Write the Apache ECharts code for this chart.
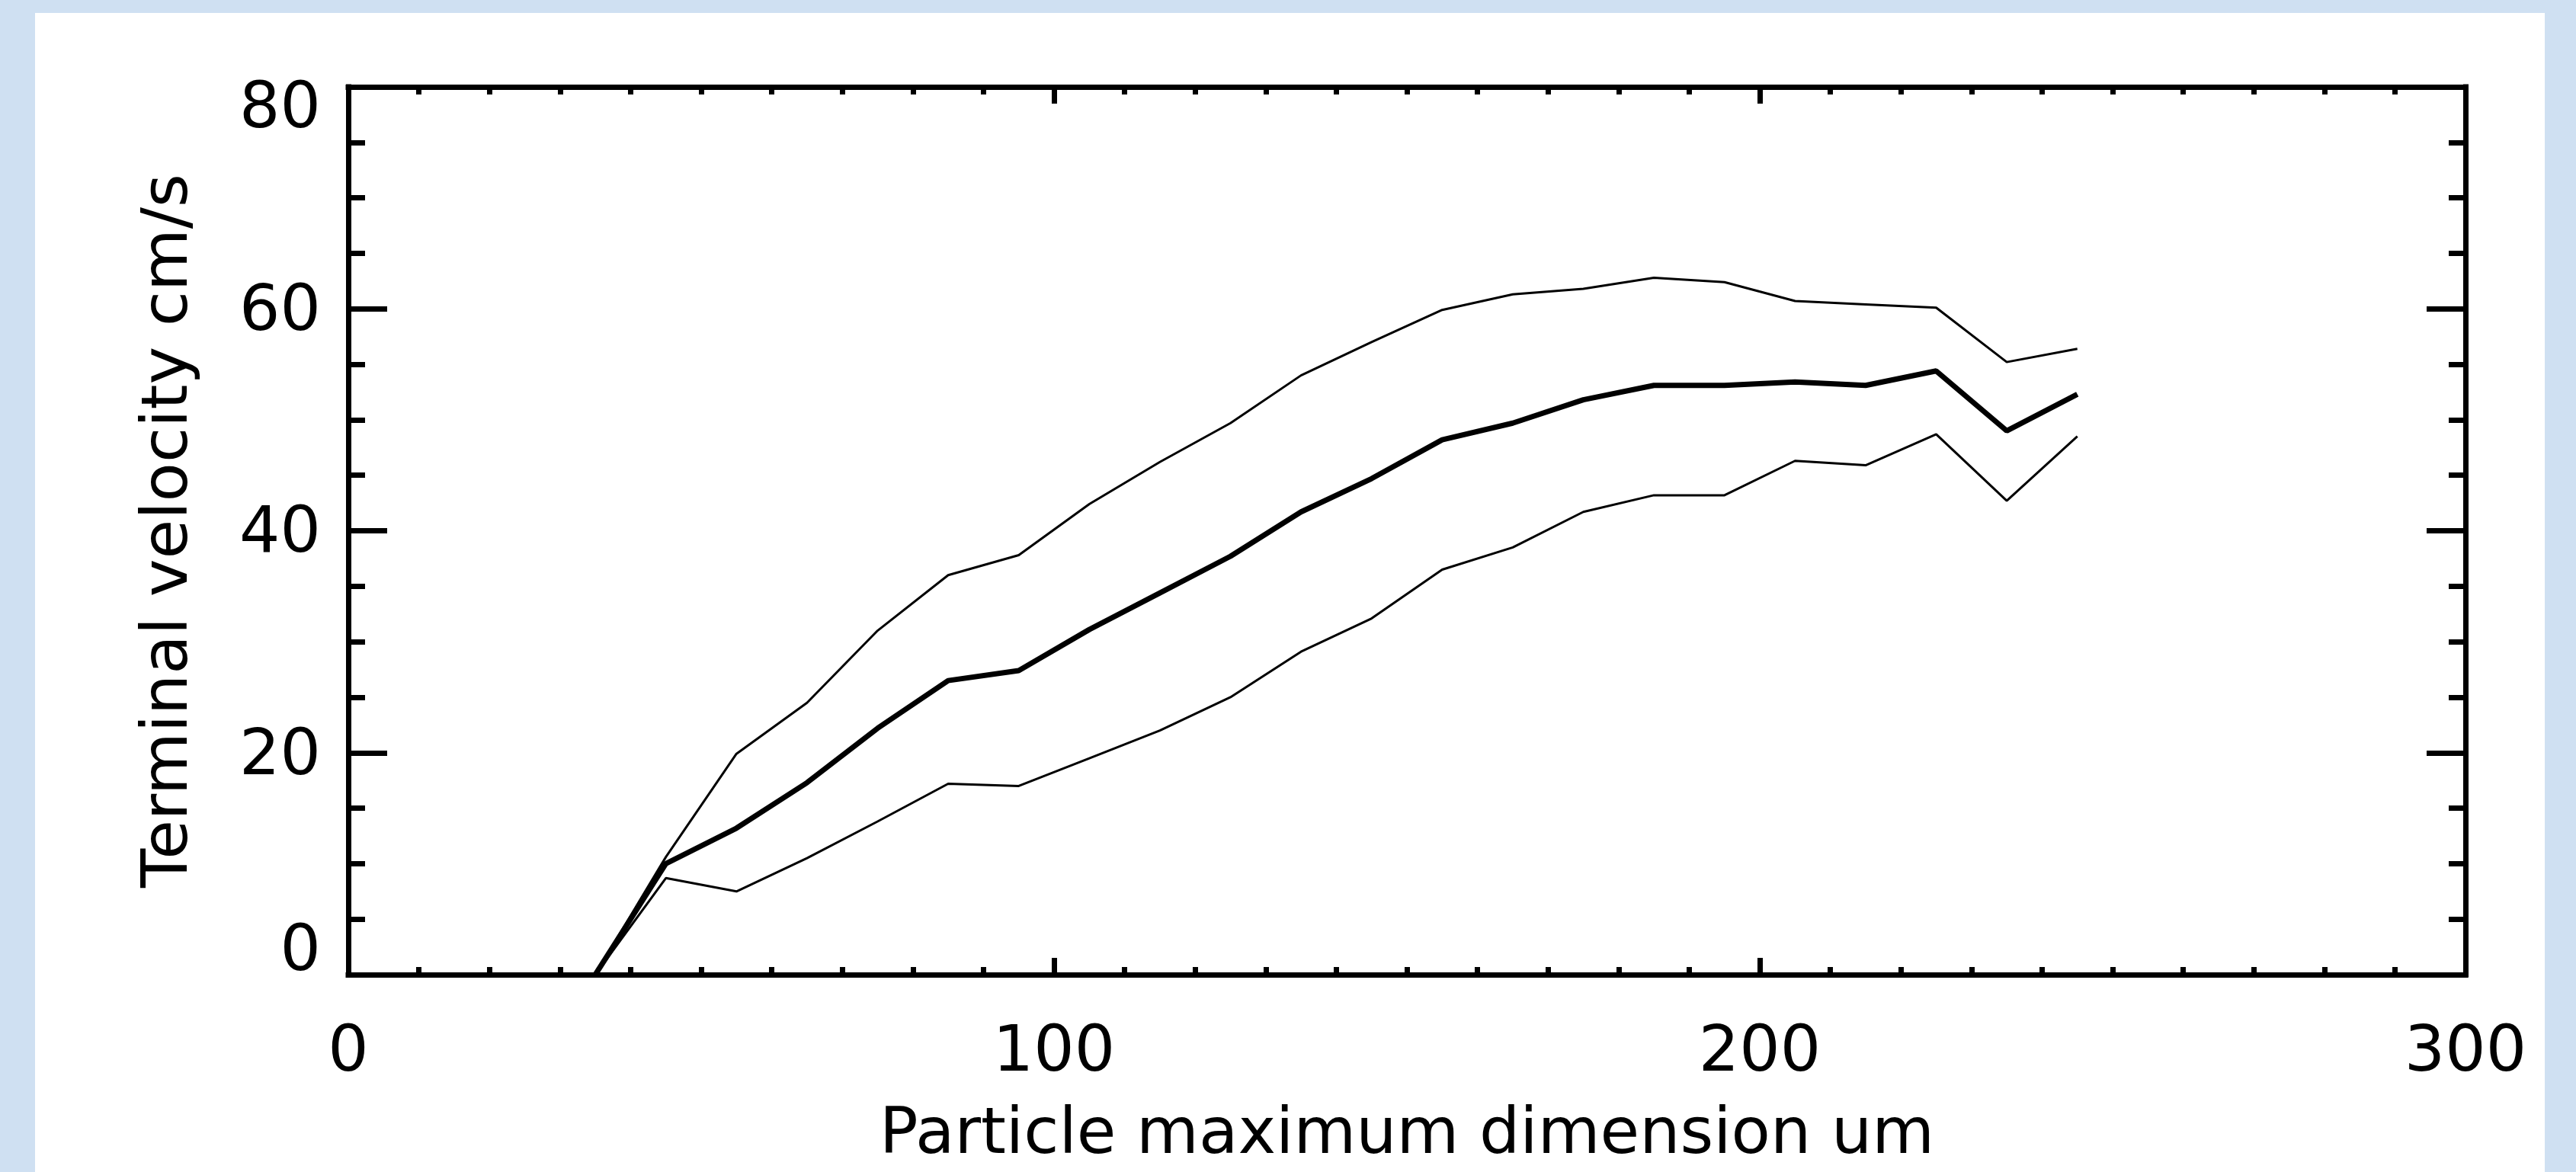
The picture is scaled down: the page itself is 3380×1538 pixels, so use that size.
<!DOCTYPE html>
<html>
<head>
<meta charset="utf-8">
<script src="https://cdn.jsdelivr.net/npm/echarts@6/dist/echarts.min.js"></script>
<style>
html, body { margin: 0; padding: 0; width: 3380px; height: 1538px; overflow: hidden; background: #cfe0f2; }
#chart { position: absolute; left: 46px; top: 17px; width: 3293px; height: 1521px; background: #ffffff; }
</style>
</head>
<body>
<div id="chart"></div>
<script>
// ---- data ----
const dimensionUm = [35, 45, 55, 65, 75, 85, 95, 105, 115, 125, 135, 145, 155, 165, 175, 185, 195, 205, 215, 225, 235, 245];
const meanVelocity = [0, 10.0, 13.2, 17.3, 22.2, 26.5, 27.4, 31.1, 34.4, 37.7, 41.7, 44.7, 48.2, 49.7, 51.8, 53.1, 53.1, 53.4, 53.1, 54.4, 49.0, 52.3];
const upperVelocity = [0, 10.6, 19.9, 24.5, 31.0, 36.0, 37.8, 42.4, 46.2, 49.7, 54.0, 57.0, 59.9, 61.3, 61.8, 62.8, 62.4, 60.7, 60.4, 60.1, 55.2, 56.4];
const lowerVelocity = [0, 8.7, 7.5, 10.5, 13.8, 17.2, 17.0, 19.5, 22.0, 25.0, 29.1, 32.1, 36.5, 38.5, 41.7, 43.2, 43.2, 46.3, 45.9, 48.7, 42.7, 48.5];
const xTickValues = [0, 100, 200, 300];
const yTickValues = [0, 20, 40, 60, 80];
const xTitle = 'Particle maximum dimension um';
const yTitle = 'Terminal velocity cm/s';

const font = { fontFamily: 'DejaVu Sans', fontSize: 84, color: '#000' };
const lineBlack = { color: '#000', width: 7 };

function pairs(ys) { return dimensionUm.map((x, i) => [x, ys[i]]); }

const xMin = xTickValues[0], xMax = xTickValues[xTickValues.length - 1];
const yMin = yTickValues[0], yMax = yTickValues[yTickValues.length - 1];

function xAxisBase(pos, labels) {
  return {
    type: 'value', min: xMin, max: xMax, interval: xTickValues[1] - xTickValues[0], position: pos,
    axisLine: { show: true, onZero: false, lineStyle: Object.assign({ cap: 'square' }, lineBlack) },
    axisTick: { show: true, inside: true, length: 22, lineStyle: lineBlack },
    minorTick: { show: true, splitNumber: 10, length: 10, lineStyle: lineBlack },
    splitLine: { show: false }, minorSplitLine: { show: false },
    axisLabel: labels ? Object.assign({ show: true, margin: 62 }, font) : { show: false }
  };
}
function yAxisBase(pos, labels) {
  return {
    type: 'value', min: yMin, max: yMax, interval: yTickValues[1] - yTickValues[0], position: pos,
    axisLine: { show: true, onZero: false, lineStyle: Object.assign({ cap: 'square' }, lineBlack) },
    axisTick: { show: true, inside: true, length: 51, lineStyle: lineBlack },
    minorTick: { show: true, splitNumber: 4, length: 22, lineStyle: lineBlack },
    splitLine: { show: false }, minorSplitLine: { show: false },
    axisLabel: labels ? Object.assign({
      show: true, margin: 36,
      formatter: v => v === yMax ? '{t|' + v + '}' : (v === yMin ? '{b|' + v + '}' : '{n|' + v + '}'),
      rich: {
        t: Object.assign({ padding: [62, 0, 0, 0] }, font),
        b: Object.assign({ padding: [0, 0, 56, 0] }, font),
        n: Object.assign({ padding: [12, 0, 0, 0] }, font)
      }
    }, font) : { show: false }
  };
}

const xBottom = Object.assign(xAxisBase('bottom', true), {
  name: xTitle, nameLocation: 'middle', nameGap: 170, nameTextStyle: font
});
const yLeft = Object.assign(yAxisBase('left', true), {
  name: yTitle, nameLocation: 'middle', nameGap: 192, nameTextStyle: font
});

const chart = echarts.init(document.getElementById('chart'), null, { renderer: 'canvas' });
chart.setOption({
  animation: false,
  backgroundColor: '#ffffff',
  grid: { left: 411, top: 97, width: 2778, height: 1176, containLabel: false },
  xAxis: [xBottom, xAxisBase('top', false)],
  yAxis: [yLeft, yAxisBase('right', false)],
  series: [
    { type: 'line', xAxisIndex: 0, yAxisIndex: 0, data: pairs(upperVelocity), showSymbol: false, lineStyle: { color: '#000', width: 3 }, itemStyle: { color: '#000' } },
    { type: 'line', xAxisIndex: 0, yAxisIndex: 0, data: pairs(meanVelocity), showSymbol: false, lineStyle: { color: '#000', width: 7 }, itemStyle: { color: '#000' } },
    { type: 'line', xAxisIndex: 0, yAxisIndex: 0, data: pairs(lowerVelocity), showSymbol: false, lineStyle: { color: '#000', width: 3 }, itemStyle: { color: '#000' } }
  ]
});
</script>
</body>
</html>
